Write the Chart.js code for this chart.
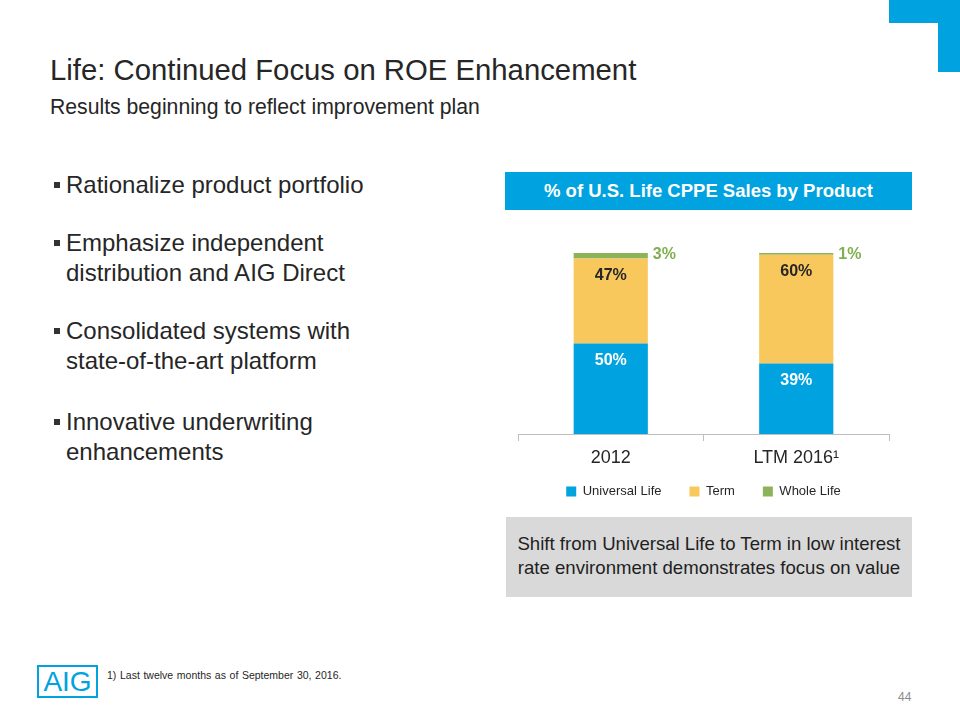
<!DOCTYPE html>
<html>
<head>
<meta charset="utf-8">
<script src="https://cdn.jsdelivr.net/npm/chart.js@4/dist/chart.umd.min.js"></script>
<style>
  body { margin: 0; width: 960px; height: 720px; background: #fff; position: relative; overflow: hidden;
         font-family: "Liberation Sans", Arial, sans-serif; color: #262626; }
  .abs { position: absolute; }
  #title { left: 50px; top: 53px; font-size: 29.3px; color: #262626; white-space: nowrap; }
  #subtitle { left: 50px; top: 95px; font-size: 21.2px; color: #262626; white-space: nowrap; }
  .bullet { left: 66px; font-size: 24px; line-height: 30px; color: #262626; white-space: nowrap; }
  .bullet:before { content: ""; position: absolute; left: -12px; top: 12px; width: 6px; height: 6px; background: #333; }
  #header { left: 505px; top: 172px; width: 407px; height: 38px; background: #00A3E0; color: #fff;
            font-weight: bold; font-size: 18.5px; line-height: 38px; text-align: center; }
  #note { left: 506px; top: 517px; width: 406px; height: 80px; background: #D9D9D9; color: #1f1f1f;
          font-size: 18.6px; line-height: 24px; text-align: center; box-sizing: border-box; padding-top: 15px; }
  #foot { left: 107px; top: 669px; font-size: 10.5px; color: #262626; word-spacing: 0.7px; }
  #page { left: 898px; top: 690px; font-size: 12px; color: #8c8c8c; }
  #logo { left: 37px; top: 665px; width: 57px; height: 29px; border: 2px solid #00A3E0; color: #00A3E0;
          font-size: 28px; line-height: 30px; text-align: center; }
  #chartBox { left: 505px; top: 225px; width: 407px; height: 283px; }
</style>
</head>
<body>
<div class="abs" style="left:889px;top:0;width:71px;height:23px;background:#00A3E0"></div>
<div class="abs" style="left:938px;top:0;width:22px;height:72px;background:#00A3E0"></div>

<div class="abs" id="title">Life: Continued Focus on ROE Enhancement</div>
<div class="abs" id="subtitle">Results beginning to reflect improvement plan</div>

<div class="abs bullet" style="top:170px">Rationalize product portfolio</div>
<div class="abs bullet" style="top:228px">Emphasize independent<br>distribution and AIG Direct</div>
<div class="abs bullet" style="top:316px">Consolidated systems with<br>state-of-the-art platform</div>
<div class="abs bullet" style="top:407px">Innovative underwriting<br>enhancements</div>

<div class="abs" id="header">% of U.S. Life CPPE Sales by Product</div>
<div class="abs" id="chartBox"><canvas id="chart" width="407" height="283"></canvas></div>
<div class="abs" id="note">Shift from Universal Life to Term in low interest<br>rate environment demonstrates focus on value</div>

<div class="abs" id="logo">AIG</div>
<div class="abs" id="foot">1) Last twelve months as of September 30, 2016.</div>
<div class="abs" id="page">44</div>

<script>
const categories = ['2012', 'LTM 2016\u00B9'];
const universalLife = [50, 39];
const term = [47, 60];
const wholeLife = [3, 1];

const colors = { ul: '#00A3E0', term: '#F9C85C', whole: '#8DB35A' };

const labelPlugin = {
    id: 'segLabels',
    afterDatasetsDraw(chart) {
        const ctx = chart.ctx;
        ctx.save();
        ctx.font = 'bold 16px "Liberation Sans", Arial, sans-serif';
        ctx.textBaseline = 'middle';
        chart.data.datasets.forEach((ds, i) => {
            const meta = chart.getDatasetMeta(i);
            meta.data.forEach((bar, j) => {
                const text = ds.data[j] + '%';
                if (i === 2) {
                    ctx.fillStyle = '#7FAF4F';
                    ctx.textAlign = 'left';
                    ctx.fillText(text, bar.x + bar.width / 2 + 5, bar.y + 2);
                } else {
                    ctx.fillStyle = i === 0 ? '#ffffff' : '#262626';
                    ctx.textAlign = 'center';
                    ctx.fillText(text, bar.x, bar.y + 17);
                }
            });
        });
        ctx.restore();
    }
};

new Chart(document.getElementById('chart').getContext('2d'), {
    type: 'bar',
    data: {
        labels: categories,
        datasets: [
            { label: 'Universal Life', data: universalLife, backgroundColor: colors.ul },
            { label: 'Term', data: term, backgroundColor: colors.term },
            { label: 'Whole Life', data: wholeLife, backgroundColor: colors.whole }
        ]
    },
    options: {
        responsive: false,
        animation: false,
        layout: { padding: { top: 28, left: 13, right: 23, bottom: 0 } },
        datasets: { bar: { barPercentage: 0.4, categoryPercentage: 1 } },
        scales: {
            x: {
                stacked: true,
                grid: { offset: true, drawOnChartArea: false, drawTicks: true, tickLength: 7, color: '#bfbfbf' },
                border: { color: '#bfbfbf' },
                ticks: { color: '#262626', font: { size: 18, family: '"Liberation Sans", Arial, sans-serif' }, padding: 6 },
                afterFit(scale) {
                    // keep the legend tight under the axis; let labels overflow the box
                    scale.height = 23;
                    scale._computeLabelArea = () => undefined;
                }
            },
            y: { stacked: true, min: 0, max: 100, display: false }
        },
        plugins: {
            legend: {
                position: 'bottom',
                labels: { boxWidth: 10, boxHeight: 10, padding: 28, color: '#262626',
                          font: { size: 13, family: '"Liberation Sans", Arial, sans-serif' } }
            },
            tooltip: { enabled: false }
        }
    },
    plugins: [labelPlugin]
});
</script>
</body>
</html>
